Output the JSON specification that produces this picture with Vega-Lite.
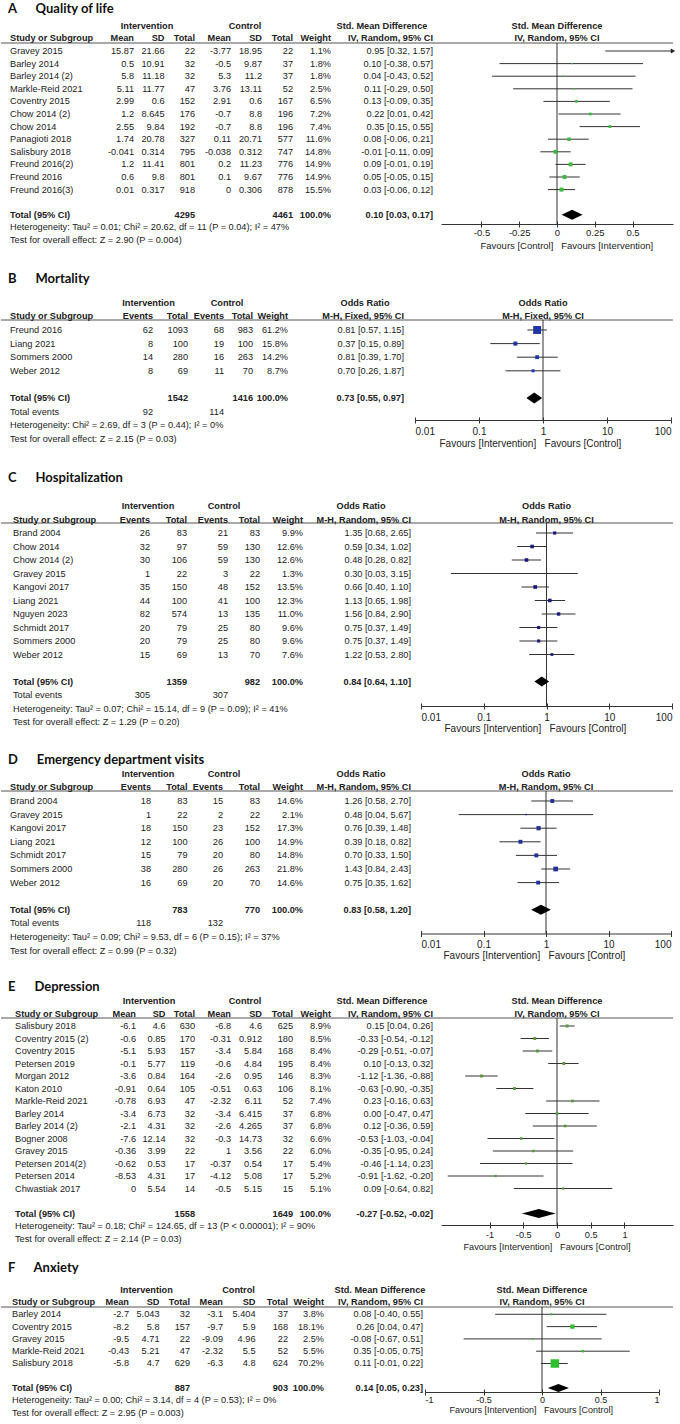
{
"$schema":"https://vega.github.io/schema/vega-lite/v6.json",
"background":"white",
"padding":{"left":0,"top":3,"right":0,"bottom":0},
"autosize":{"type":"pad"},
"spacing":0,
"bounds":"flush",
"config":{
 "view":{"stroke":null},
 "text":{"font":"Liberation Sans, Arial, sans-serif","fontSize":9.2,"color":"#222","baseline":"middle"},
 "style":{"b":{"fontWeight":"bold"},"l":{"align":"left"},"r":{"align":"right"},"c":{"align":"center"},"m":{"fontSize":9.4},"s":{"fontSize":8.8}},
 "axis":{"grid":false,"labelFont":"Liberation Sans, Arial, sans-serif","labelFontSize":9.5,"labelColor":"#222","titleFont":"Liberation Sans, Arial, sans-serif","titleFontSize":9.5,"titleFontWeight":"normal","titleColor":"#222","domainColor":"#333","tickColor":"#333","labelBaseline":"middle","labelFlush":true,"labelOverlap":false,"labelExpr":"'' + datum.value","titleAlign":"left","titleBaseline":"middle"},
 "title":{"anchor":"start","frame":"group","font":"Lato","fontSize":13,"fontWeight":"bold","color":"#111","dx":7}
},
"datasets":{
"qol":[
{"row":-2,"kind":"group","group_i":"Intervention","group_c":"Control","ci":"Std. Mean Difference"},
{"row":-1,"kind":"head","label":"Study or Subgroup","mean_i":"Mean","sd_i":"SD","total_i":"Total","mean_c":"Mean","sd_c":"SD","total_c":"Total","weight":"Weight","ci":"IV, Random, 95% CI"},
{"row":0,"kind":"study","label":"Gravey 2015","mean_i":"15.87","sd_i":"21.66","total_i":"22","mean_c":"-3.77","sd_c":"18.95","total_c":"22","weight":"1.1%","w":1.1,"ci":"0.95 [0.32, 1.57]","est":0.95,"lo":0.32,"hi":1.57},
{"row":1,"kind":"study","label":"Barley 2014","mean_i":"0.5","sd_i":"10.91","total_i":"32","mean_c":"-0.5","sd_c":"9.87","total_c":"37","weight":"1.8%","w":1.8,"ci":"0.10 [-0.38, 0.57]","est":0.10,"lo":-0.38,"hi":0.57},
{"row":2,"kind":"study","label":"Barley 2014 (2)","mean_i":"5.8","sd_i":"11.18","total_i":"32","mean_c":"5.3","sd_c":"11.2","total_c":"37","weight":"1.8%","w":1.8,"ci":"0.04 [-0.43, 0.52]","est":0.04,"lo":-0.43,"hi":0.52},
{"row":3,"kind":"study","label":"Markle-Reid 2021","mean_i":"5.11","sd_i":"11.77","total_i":"47","mean_c":"3.76","sd_c":"13.11","total_c":"52","weight":"2.5%","w":2.5,"ci":"0.11 [-0.29, 0.50]","est":0.11,"lo":-0.29,"hi":0.50},
{"row":4,"kind":"study","label":"Coventry 2015","mean_i":"2.99","sd_i":"0.6","total_i":"152","mean_c":"2.91","sd_c":"0.6","total_c":"167","weight":"6.5%","w":6.5,"ci":"0.13 [-0.09, 0.35]","est":0.13,"lo":-0.09,"hi":0.35},
{"row":5,"kind":"study","label":"Chow 2014 (2)","mean_i":"1.2","sd_i":"8.645","total_i":"176","mean_c":"-0.7","sd_c":"8.8","total_c":"196","weight":"7.2%","w":7.2,"ci":"0.22 [0.01, 0.42]","est":0.22,"lo":0.01,"hi":0.42},
{"row":6,"kind":"study","label":"Chow 2014","mean_i":"2.55","sd_i":"9.84","total_i":"192","mean_c":"-0.7","sd_c":"8.8","total_c":"196","weight":"7.4%","w":7.4,"ci":"0.35 [0.15, 0.55]","est":0.35,"lo":0.15,"hi":0.55},
{"row":7,"kind":"study","label":"Panagioti 2018","mean_i":"1.74","sd_i":"20.78","total_i":"327","mean_c":"0.11","sd_c":"20.71","total_c":"577","weight":"11.6%","w":11.6,"ci":"0.08 [-0.06, 0.21]","est":0.08,"lo":-0.06,"hi":0.21},
{"row":8,"kind":"study","label":"Salisbury 2018","mean_i":"-0.041","sd_i":"0.314","total_i":"795","mean_c":"-0.038","sd_c":"0.312","total_c":"747","weight":"14.8%","w":14.8,"ci":"-0.01 [-0.11, 0.09]","est":-0.01,"lo":-0.11,"hi":0.09},
{"row":9,"kind":"study","label":"Freund 2016(2)","mean_i":"1.2","sd_i":"11.41","total_i":"801","mean_c":"0.2","sd_c":"11.23","total_c":"776","weight":"14.9%","w":14.9,"ci":"0.09 [-0.01, 0.19]","est":0.09,"lo":-0.01,"hi":0.19},
{"row":10,"kind":"study","label":"Freund 2016","mean_i":"0.6","sd_i":"9.8","total_i":"801","mean_c":"0.1","sd_c":"9.67","total_c":"776","weight":"14.9%","w":14.9,"ci":"0.05 [-0.05, 0.15]","est":0.05,"lo":-0.05,"hi":0.15},
{"row":11,"kind":"study","label":"Freund 2016(3)","mean_i":"0.01","sd_i":"0.317","total_i":"918","mean_c":"0","sd_c":"0.306","total_c":"878","weight":"15.5%","w":15.5,"ci":"0.03 [-0.06, 0.12]","est":0.03,"lo":-0.06,"hi":0.12},
{"row":13,"kind":"total","label":"Total (95% CI)","total_i":"4295","total_c":"4461","weight":"100.0%","ci":"0.10 [0.03, 0.17]","est":0.10,"lo":0.03,"hi":0.17},
{"row":14,"kind":"note","label":"Heterogeneity: Tau² = 0.01; Chi² = 20.62, df = 11 (P = 0.04); I² = 47%"},
{"row":15,"kind":"note","label":"Test for overall effect: Z = 2.90 (P = 0.004)"}
],
"mort":[
{"row":-2,"kind":"group","group_i":"Intervention","group_c":"Control","ci":"Odds Ratio"},
{"row":-1,"kind":"head","label":"Study or Subgroup","events_i":"Events","total_i":"Total","events_c":"Events","total_c":"Total","weight":"Weight","ci":"M-H, Fixed, 95% CI"},
{"row":0,"kind":"study","label":"Freund 2016","events_i":"62","total_i":"1093","events_c":"68","total_c":"983","weight":"61.2%","w":61.2,"ci":"0.81 [0.57, 1.15]","est":0.81,"lo":0.57,"hi":1.15},
{"row":1,"kind":"study","label":"Liang 2021","events_i":"8","total_i":"100","events_c":"19","total_c":"100","weight":"15.8%","w":15.8,"ci":"0.37 [0.15, 0.89]","est":0.37,"lo":0.15,"hi":0.89},
{"row":2,"kind":"study","label":"Sommers 2000","events_i":"14","total_i":"280","events_c":"16","total_c":"263","weight":"14.2%","w":14.2,"ci":"0.81 [0.39, 1.70]","est":0.81,"lo":0.39,"hi":1.70},
{"row":3,"kind":"study","label":"Weber 2012","events_i":"8","total_i":"69","events_c":"11","total_c":"70","weight":"8.7%","w":8.7,"ci":"0.70 [0.26, 1.87]","est":0.70,"lo":0.26,"hi":1.87},
{"row":5,"kind":"total","label":"Total (95% CI)","total_i":"1542","total_c":"1416","weight":"100.0%","ci":"0.73 [0.55, 0.97]","est":0.73,"lo":0.55,"hi":0.97},
{"row":6,"kind":"events","label":"Total events","events_i":"92","events_c":"114"},
{"row":7,"kind":"note","label":"Heterogeneity: Chi² = 2.69, df = 3 (P = 0.44); I² = 0%"},
{"row":8,"kind":"note","label":"Test for overall effect: Z = 2.15 (P = 0.03)"}
],
"hosp":[
{"row":-2,"kind":"group","group_i":"Intervention","group_c":"Control","ci":"Odds Ratio"},
{"row":-1,"kind":"head","label":"Study or Subgroup","events_i":"Events","total_i":"Total","events_c":"Events","total_c":"Total","weight":"Weight","ci":"M-H, Random, 95% CI"},
{"row":0,"kind":"study","label":"Brand 2004","events_i":"26","total_i":"83","events_c":"21","total_c":"83","weight":"9.9%","w":9.9,"ci":"1.35 [0.68, 2.65]","est":1.35,"lo":0.68,"hi":2.65},
{"row":1,"kind":"study","label":"Chow 2014","events_i":"32","total_i":"97","events_c":"59","total_c":"130","weight":"12.6%","w":12.6,"ci":"0.59 [0.34, 1.02]","est":0.59,"lo":0.34,"hi":1.02},
{"row":2,"kind":"study","label":"Chow 2014 (2)","events_i":"30","total_i":"106","events_c":"59","total_c":"130","weight":"12.6%","w":12.6,"ci":"0.48 [0.28, 0.82]","est":0.48,"lo":0.28,"hi":0.82},
{"row":3,"kind":"study","label":"Gravey 2015","events_i":"1","total_i":"22","events_c":"3","total_c":"22","weight":"1.3%","w":1.3,"ci":"0.30 [0.03, 3.15]","est":0.30,"lo":0.03,"hi":3.15},
{"row":4,"kind":"study","label":"Kangovi 2017","events_i":"35","total_i":"150","events_c":"48","total_c":"152","weight":"13.5%","w":13.5,"ci":"0.66 [0.40, 1.10]","est":0.66,"lo":0.40,"hi":1.10},
{"row":5,"kind":"study","label":"Liang 2021","events_i":"44","total_i":"100","events_c":"41","total_c":"100","weight":"12.3%","w":12.3,"ci":"1.13 [0.65, 1.98]","est":1.13,"lo":0.65,"hi":1.98},
{"row":6,"kind":"study","label":"Nguyen 2023","events_i":"82","total_i":"574","events_c":"13","total_c":"135","weight":"11.0%","w":11.0,"ci":"1.56 [0.84, 2.90]","est":1.56,"lo":0.84,"hi":2.90},
{"row":7,"kind":"study","label":"Schmidt 2017","events_i":"20","total_i":"79","events_c":"25","total_c":"80","weight":"9.6%","w":9.6,"ci":"0.75 [0.37, 1.49]","est":0.75,"lo":0.37,"hi":1.49},
{"row":8,"kind":"study","label":"Sommers 2000","events_i":"20","total_i":"79","events_c":"25","total_c":"80","weight":"9.6%","w":9.6,"ci":"0.75 [0.37, 1.49]","est":0.75,"lo":0.37,"hi":1.49},
{"row":9,"kind":"study","label":"Weber 2012","events_i":"15","total_i":"69","events_c":"13","total_c":"70","weight":"7.6%","w":7.6,"ci":"1.22 [0.53, 2.80]","est":1.22,"lo":0.53,"hi":2.80},
{"row":11,"kind":"total","label":"Total (95% CI)","total_i":"1359","total_c":"982","weight":"100.0%","ci":"0.84 [0.64, 1.10]","est":0.84,"lo":0.64,"hi":1.10},
{"row":12,"kind":"events","label":"Total events","events_i":"305","events_c":"307"},
{"row":13,"kind":"note","label":"Heterogeneity: Tau² = 0.07; Chi² = 15.14, df = 9 (P = 0.09); I² = 41%"},
{"row":14,"kind":"note","label":"Test for overall effect: Z = 1.29 (P = 0.20)"}
],
"ed":[
{"row":-2,"kind":"group","group_i":"Intervention","group_c":"Control","ci":"Odds Ratio"},
{"row":-1,"kind":"head","label":"Study or Subgroup","events_i":"Events","total_i":"Total","events_c":"Events","total_c":"Total","weight":"Weight","ci":"M-H, Random, 95% CI"},
{"row":0,"kind":"study","label":"Brand 2004","events_i":"18","total_i":"83","events_c":"15","total_c":"83","weight":"14.6%","w":14.6,"ci":"1.26 [0.58, 2.70]","est":1.26,"lo":0.58,"hi":2.70},
{"row":1,"kind":"study","label":"Gravey 2015","events_i":"1","total_i":"22","events_c":"2","total_c":"22","weight":"2.1%","w":2.1,"ci":"0.48 [0.04, 5.67]","est":0.48,"lo":0.04,"hi":5.67},
{"row":2,"kind":"study","label":"Kangovi 2017","events_i":"18","total_i":"150","events_c":"23","total_c":"152","weight":"17.3%","w":17.3,"ci":"0.76 [0.39, 1.48]","est":0.76,"lo":0.39,"hi":1.48},
{"row":3,"kind":"study","label":"Liang 2021","events_i":"12","total_i":"100","events_c":"26","total_c":"100","weight":"14.9%","w":14.9,"ci":"0.39 [0.18, 0.82]","est":0.39,"lo":0.18,"hi":0.82},
{"row":4,"kind":"study","label":"Schmidt 2017","events_i":"15","total_i":"79","events_c":"20","total_c":"80","weight":"14.8%","w":14.8,"ci":"0.70 [0.33, 1.50]","est":0.70,"lo":0.33,"hi":1.50},
{"row":5,"kind":"study","label":"Sommers 2000","events_i":"38","total_i":"280","events_c":"26","total_c":"263","weight":"21.8%","w":21.8,"ci":"1.43 [0.84, 2.43]","est":1.43,"lo":0.84,"hi":2.43},
{"row":6,"kind":"study","label":"Weber 2012","events_i":"16","total_i":"69","events_c":"20","total_c":"70","weight":"14.6%","w":14.6,"ci":"0.75 [0.35, 1.62]","est":0.75,"lo":0.35,"hi":1.62},
{"row":8,"kind":"total","label":"Total (95% CI)","total_i":"783","total_c":"770","weight":"100.0%","ci":"0.83 [0.58, 1.20]","est":0.83,"lo":0.58,"hi":1.20},
{"row":9,"kind":"events","label":"Total events","events_i":"118","events_c":"132"},
{"row":10,"kind":"note","label":"Heterogeneity: Tau² = 0.09; Chi² = 9.53, df = 6 (P = 0.15); I² = 37%"},
{"row":11,"kind":"note","label":"Test for overall effect: Z = 0.99 (P = 0.32)"}
],
"dep":[
{"row":-2,"kind":"group","group_i":"Intervention","group_c":"Control","ci":"Std. Mean Difference"},
{"row":-1,"kind":"head","label":"Study or Subgroup","mean_i":"Mean","sd_i":"SD","total_i":"Total","mean_c":"Mean","sd_c":"SD","total_c":"Total","weight":"Weight","ci":"IV, Random, 95% CI"},
{"row":0,"kind":"study","label":"Salisbury 2018","mean_i":"-6.1","sd_i":"4.6","total_i":"630","mean_c":"-6.8","sd_c":"4.6","total_c":"625","weight":"8.9%","w":8.9,"ci":"0.15 [0.04, 0.26]","est":0.15,"lo":0.04,"hi":0.26},
{"row":1,"kind":"study","label":"Coventry 2015 (2)","mean_i":"-0.6","sd_i":"0.85","total_i":"170","mean_c":"-0.31","sd_c":"0.912","total_c":"180","weight":"8.5%","w":8.5,"ci":"-0.33 [-0.54, -0.12]","est":-0.33,"lo":-0.54,"hi":-0.12},
{"row":2,"kind":"study","label":"Coventry 2015","mean_i":"-5.1","sd_i":"5.93","total_i":"157","mean_c":"-3.4","sd_c":"5.84","total_c":"168","weight":"8.4%","w":8.4,"ci":"-0.29 [-0.51, -0.07]","est":-0.29,"lo":-0.51,"hi":-0.07},
{"row":3,"kind":"study","label":"Petersen 2019","mean_i":"-0.1","sd_i":"5.77","total_i":"119","mean_c":"-0.6","sd_c":"4.84","total_c":"195","weight":"8.4%","w":8.4,"ci":"0.10 [-0.13, 0.32]","est":0.10,"lo":-0.13,"hi":0.32},
{"row":4,"kind":"study","label":"Morgan 2012","mean_i":"-3.6","sd_i":"0.84","total_i":"164","mean_c":"-2.6","sd_c":"0.95","total_c":"146","weight":"8.3%","w":8.3,"ci":"-1.12 [-1.36, -0.88]","est":-1.12,"lo":-1.36,"hi":-0.88},
{"row":5,"kind":"study","label":"Katon 2010","mean_i":"-0.91","sd_i":"0.64","total_i":"105","mean_c":"-0.51","sd_c":"0.63","total_c":"106","weight":"8.1%","w":8.1,"ci":"-0.63 [-0.90, -0.35]","est":-0.63,"lo":-0.90,"hi":-0.35},
{"row":6,"kind":"study","label":"Markle-Reid 2021","mean_i":"-0.78","sd_i":"6.93","total_i":"47","mean_c":"-2.32","sd_c":"6.11","total_c":"52","weight":"7.4%","w":7.4,"ci":"0.23 [-0.16, 0.63]","est":0.23,"lo":-0.16,"hi":0.63},
{"row":7,"kind":"study","label":"Barley 2014","mean_i":"-3.4","sd_i":"6.73","total_i":"32","mean_c":"-3.4","sd_c":"6.415","total_c":"37","weight":"6.8%","w":6.8,"ci":"0.00 [-0.47, 0.47]","est":0.00,"lo":-0.47,"hi":0.47},
{"row":8,"kind":"study","label":"Barley 2014 (2)","mean_i":"-2.1","sd_i":"4.31","total_i":"32","mean_c":"-2.6","sd_c":"4.265","total_c":"37","weight":"6.8%","w":6.8,"ci":"0.12 [-0.36, 0.59]","est":0.12,"lo":-0.36,"hi":0.59},
{"row":9,"kind":"study","label":"Bogner 2008","mean_i":"-7.6","sd_i":"12.14","total_i":"32","mean_c":"-0.3","sd_c":"14.73","total_c":"32","weight":"6.6%","w":6.6,"ci":"-0.53 [-1.03, -0.04]","est":-0.53,"lo":-1.03,"hi":-0.04},
{"row":10,"kind":"study","label":"Gravey 2015","mean_i":"-0.36","sd_i":"3.99","total_i":"22","mean_c":"1","sd_c":"3.56","total_c":"22","weight":"6.0%","w":6.0,"ci":"-0.35 [-0.95, 0.24]","est":-0.35,"lo":-0.95,"hi":0.24},
{"row":11,"kind":"study","label":"Petersen 2014(2)","mean_i":"-0.62","sd_i":"0.53","total_i":"17","mean_c":"-0.37","sd_c":"0.54","total_c":"17","weight":"5.4%","w":5.4,"ci":"-0.46 [-1.14, 0.23]","est":-0.46,"lo":-1.14,"hi":0.23},
{"row":12,"kind":"study","label":"Petersen 2014","mean_i":"-8.53","sd_i":"4.31","total_i":"17","mean_c":"-4.12","sd_c":"5.08","total_c":"17","weight":"5.2%","w":5.2,"ci":"-0.91 [-1.62, -0.20]","est":-0.91,"lo":-1.62,"hi":-0.20},
{"row":13,"kind":"study","label":"Chwastiak 2017","mean_i":"0","sd_i":"5.54","total_i":"14","mean_c":"-0.5","sd_c":"5.15","total_c":"15","weight":"5.1%","w":5.1,"ci":"0.09 [-0.64, 0.82]","est":0.09,"lo":-0.64,"hi":0.82},
{"row":15,"kind":"total","label":"Total (95% CI)","total_i":"1558","total_c":"1649","weight":"100.0%","ci":"-0.27 [-0.52, -0.02]","est":-0.27,"lo":-0.52,"hi":-0.02},
{"row":16,"kind":"note","label":"Heterogeneity: Tau² = 0.18; Chi² = 124.65, df = 13 (P < 0.00001); I² = 90%"},
{"row":17,"kind":"note","label":"Test for overall effect: Z = 2.14 (P = 0.03)"}
],
"anx":[
{"row":-2,"kind":"group","group_i":"Intervention","group_c":"Control","ci":"Std. Mean Difference"},
{"row":-1,"kind":"head","label":"Study or Subgroup","mean_i":"Mean","sd_i":"SD","total_i":"Total","mean_c":"Mean","sd_c":"SD","total_c":"Total","weight":"Weight","ci":"IV, Random, 95% CI"},
{"row":0,"kind":"study","label":"Barley 2014","mean_i":"-2.7","sd_i":"5.043","total_i":"32","mean_c":"-3.1","sd_c":"5.404","total_c":"37","weight":"3.8%","w":3.8,"ci":"0.08 [-0.40, 0.55]","est":0.08,"lo":-0.40,"hi":0.55},
{"row":1,"kind":"study","label":"Coventry 2015","mean_i":"-8.2","sd_i":"5.8","total_i":"157","mean_c":"-9.7","sd_c":"5.9","total_c":"168","weight":"18.1%","w":18.1,"ci":"0.26 [0.04, 0.47]","est":0.26,"lo":0.04,"hi":0.47},
{"row":2,"kind":"study","label":"Gravey 2015","mean_i":"-9.5","sd_i":"4.71","total_i":"22","mean_c":"-9.09","sd_c":"4.96","total_c":"22","weight":"2.5%","w":2.5,"ci":"-0.08 [-0.67, 0.51]","est":-0.08,"lo":-0.67,"hi":0.51},
{"row":3,"kind":"study","label":"Markle-Reid 2021","mean_i":"-0.43","sd_i":"5.21","total_i":"47","mean_c":"-2.32","sd_c":"5.5","total_c":"52","weight":"5.5%","w":5.5,"ci":"0.35 [-0.05, 0.75]","est":0.35,"lo":-0.05,"hi":0.75},
{"row":4,"kind":"study","label":"Salisbury 2018","mean_i":"-5.8","sd_i":"4.7","total_i":"629","mean_c":"-6.3","sd_c":"4.8","total_c":"624","weight":"70.2%","w":70.2,"ci":"0.11 [-0.01, 0.22]","est":0.11,"lo":-0.01,"hi":0.22},
{"row":6,"kind":"total","label":"Total (95% CI)","total_i":"887","total_c":"903","weight":"100.0%","ci":"0.14 [0.05, 0.23]","est":0.14,"lo":0.05,"hi":0.23},
{"row":7,"kind":"note","label":"Heterogeneity: Tau² = 0.00; Chi² = 3.14, df = 4 (P = 0.53); I² = 0%"},
{"row":8,"kind":"note","label":"Test for overall effect: Z = 2.95 (P = 0.003)"}
]
},
"vconcat":[
{"title":{"text":"A\u00a0\u00a0\u00a0\u00a0\u00a0\u00a0Quality of life","offset":5.5},"width":672,"height":277,"resolve":{"scale":{"x":"independent"}},"layer":[
{"data":{"name":"qol"},"transform":[{"filter":"datum.kind == 'head'"}],"mark":{"type":"rule","color":"#555"},"encoding":{"y":{"datum":-0.635,"type":"quantitative","scale":{"domain":[-0.635,21.349],"reverse":true,"nice":false,"zero":false},"axis":null}}},
{"data":{"name":"qol"},"transform":[{"filter":"datum.kind == 'head'"}],"mark":{"type":"rule","color":"#333"},"encoding":{"x":{"datum":0,"type":"quantitative","scale":{"domain":[-0.768,0.768],"range":[440,672],"nice":false,"zero":false,"clamp":true},"axis":null},"y":{"datum":-0.635,"type":"quantitative","scale":{"domain":[-0.635,21.349],"reverse":true,"nice":false,"zero":false},"axis":null},"y2":{"datum":13.73}}},
{"data":{"name":"qol"},"transform":[{"filter":"datum.kind == 'study'"}],"mark":{"type":"rule","color":"#333"},"encoding":{"x":{"field":"lo","type":"quantitative","scale":{"domain":[-0.768,0.768],"range":[440,672],"nice":false,"zero":false,"clamp":true},"axis":{"orient":"bottom","offset":-96,"values":[-0.5,-0.25,0,0.25,0.5],"tickSize":3,"labelPadding":5,"title":"Favours [Control]\u00a0\u00a0\u00a0Favours [Intervention]","titleX":479,"titleY":21}},"x2":{"field":"hi"},"y":{"field":"row","type":"quantitative","scale":{"domain":[-0.635,21.349],"reverse":true,"nice":false,"zero":false},"axis":null}}},
{"data":{"name":"qol"},"transform":[{"filter":"datum.kind == 'study' && datum.est < 0.768"}],"mark":{"type":"square","filled":true,"opacity":1,"color":"#3cb83c"},"encoding":{"x":{"field":"est","type":"quantitative","scale":{"domain":[-0.768,0.768],"range":[440,672],"nice":false,"zero":false,"clamp":true},"axis":{"orient":"bottom","offset":-96,"values":[-0.5,-0.25,0,0.25,0.5],"tickSize":-3,"labels":false,"domain":false,"title":null}},"y":{"field":"row","type":"quantitative","scale":{"domain":[-0.635,21.349],"reverse":true,"nice":false,"zero":false},"axis":null},"size":{"field":"w","type":"quantitative","scale":{"domain":[0,100],"range":[0,103]},"legend":null}}},
{"data":{"name":"qol"},"transform":[{"filter":"datum.kind == 'study' && datum.hi > 0.768"}],"mark":{"type":"point","shape":"triangle-right","filled":true,"opacity":1,"color":"#222","size":25},"encoding":{"x":{"field":"hi","type":"quantitative","scale":{"domain":[-0.768,0.768],"range":[440,672],"nice":false,"zero":false,"clamp":true},"axis":null},"y":{"field":"row","type":"quantitative","scale":{"domain":[-0.635,21.349],"reverse":true,"nice":false,"zero":false},"axis":null}}},
{"data":{"name":"qol"},"transform":[{"filter":"datum.kind == 'total'"}],"mark":{"type":"point","shape":"M-1,0L0,-0.48L1,0L0,0.48Z","filled":true,"opacity":1,"color":"#000","size":441},"encoding":{"x":{"field":"est","type":"quantitative","scale":{"domain":[-0.768,0.768],"range":[440,672],"nice":false,"zero":false,"clamp":true},"axis":null},"y":{"field":"row","type":"quantitative","scale":{"domain":[-0.635,21.349],"reverse":true,"nice":false,"zero":false},"axis":null}}},
{"data":{"name":"qol"},"transform":[{"filter":{"field":"kind","oneOf":["study","events","note"]}}],"mark":{"type":"text","style":"l"},"encoding":{"x":{"datum":"label","type":"nominal","scale":{"type":"point","domain":["label"],"range":[9,9]},"axis":null},"y":{"field":"row","type":"quantitative","scale":{"domain":[-0.635,21.349],"reverse":true,"nice":false,"zero":false},"axis":null},"text":{"field":"label","type":"nominal"}}},
{"data":{"name":"qol"},"transform":[{"filter":{"field":"kind","oneOf":["head","total"]}}],"mark":{"type":"text","style":["l","b"]},"encoding":{"x":{"datum":"label","type":"nominal","scale":{"type":"point","domain":["label"],"range":[9,9]},"axis":null},"y":{"field":"row","type":"quantitative","scale":{"domain":[-0.635,21.349],"reverse":true,"nice":false,"zero":false},"axis":null},"text":{"field":"label","type":"nominal"}}},
{"data":{"name":"qol"},"transform":[{"filter":{"field":"kind","oneOf":["study","events"]}},{"fold":["mean_i","sd_i","total_i"],"as":["col","val"]},{"filter":"isValid(datum.val)"}],"mark":{"type":"text","style":"r"},"encoding":{"x":{"field":"col","type":"nominal","scale":{"type":"point","domain":["mean_i","sd_i","total_i"],"range":[133,194],"padding":0},"axis":null},"y":{"field":"row","type":"quantitative","scale":{"domain":[-0.635,21.349],"reverse":true,"nice":false,"zero":false},"axis":null},"text":{"field":"val","type":"nominal"}}},
{"data":{"name":"qol"},"transform":[{"filter":{"field":"kind","oneOf":["head","total"]}},{"fold":["mean_i","sd_i","total_i"],"as":["col","val"]},{"filter":"isValid(datum.val)"}],"mark":{"type":"text","style":["r","b"]},"encoding":{"x":{"field":"col","type":"nominal","scale":{"type":"point","domain":["mean_i","sd_i","total_i"],"range":[133,194],"padding":0},"axis":null},"y":{"field":"row","type":"quantitative","scale":{"domain":[-0.635,21.349],"reverse":true,"nice":false,"zero":false},"axis":null},"text":{"field":"val","type":"nominal"}}},
{"data":{"name":"qol"},"transform":[{"filter":"datum.kind == 'group'"}],"mark":{"type":"text","style":["c","b"],"dx":-17.5},"encoding":{"x":{"datum":"sd_i","type":"nominal","scale":{"type":"point","domain":["mean_i","sd_i","total_i"],"range":[133,194],"padding":0},"axis":null},"y":{"field":"row","type":"quantitative","scale":{"domain":[-0.635,21.349],"reverse":true,"nice":false,"zero":false},"axis":null},"text":{"field":"group_i","type":"nominal"}}},
{"data":{"name":"qol"},"transform":[{"filter":{"field":"kind","oneOf":["study","events"]}},{"fold":["mean_c","sd_c","total_c"],"as":["col","val"]},{"filter":"isValid(datum.val)"}],"mark":{"type":"text","style":"r"},"encoding":{"x":{"field":"col","type":"nominal","scale":{"type":"point","domain":["mean_c","sd_c","total_c"],"range":[230,292],"padding":0},"axis":null},"y":{"field":"row","type":"quantitative","scale":{"domain":[-0.635,21.349],"reverse":true,"nice":false,"zero":false},"axis":null},"text":{"field":"val","type":"nominal"}}},
{"data":{"name":"qol"},"transform":[{"filter":{"field":"kind","oneOf":["head","total"]}},{"fold":["mean_c","sd_c","total_c"],"as":["col","val"]},{"filter":"isValid(datum.val)"}],"mark":{"type":"text","style":["r","b"]},"encoding":{"x":{"field":"col","type":"nominal","scale":{"type":"point","domain":["mean_c","sd_c","total_c"],"range":[230,292],"padding":0},"axis":null},"y":{"field":"row","type":"quantitative","scale":{"domain":[-0.635,21.349],"reverse":true,"nice":false,"zero":false},"axis":null},"text":{"field":"val","type":"nominal"}}},
{"data":{"name":"qol"},"transform":[{"filter":"datum.kind == 'group'"}],"mark":{"type":"text","style":["c","b"],"dx":-17},"encoding":{"x":{"datum":"sd_c","type":"nominal","scale":{"type":"point","domain":["mean_c","sd_c","total_c"],"range":[230,292],"padding":0},"axis":null},"y":{"field":"row","type":"quantitative","scale":{"domain":[-0.635,21.349],"reverse":true,"nice":false,"zero":false},"axis":null},"text":{"field":"group_c","type":"nominal"}}},
{"data":{"name":"qol"},"transform":[{"filter":{"field":"kind","oneOf":["study"]}},{"fold":["weight","ci"],"as":["col","val"]},{"filter":"isValid(datum.val)"}],"mark":{"type":"text","style":"r"},"encoding":{"x":{"field":"col","type":"nominal","scale":{"type":"point","domain":["weight","ci"],"range":[330,432],"padding":0},"axis":null},"y":{"field":"row","type":"quantitative","scale":{"domain":[-0.635,21.349],"reverse":true,"nice":false,"zero":false},"axis":null},"text":{"field":"val","type":"nominal"}}},
{"data":{"name":"qol"},"transform":[{"filter":{"field":"kind","oneOf":["head","total"]}},{"fold":["weight","ci"],"as":["col","val"]},{"filter":"isValid(datum.val)"}],"mark":{"type":"text","style":["r","b"]},"encoding":{"x":{"field":"col","type":"nominal","scale":{"type":"point","domain":["weight","ci"],"range":[330,432],"padding":0},"axis":null},"y":{"field":"row","type":"quantitative","scale":{"domain":[-0.635,21.349],"reverse":true,"nice":false,"zero":false},"axis":null},"text":{"field":"val","type":"nominal"}}},
{"data":{"name":"qol"},"transform":[{"filter":"datum.kind == 'group'"}],"mark":{"type":"text","style":["c","b"],"dx":-51},"encoding":{"x":{"datum":"ci","type":"nominal","scale":{"type":"point","domain":["weight","ci"],"range":[330,432],"padding":0},"axis":null},"y":{"field":"row","type":"quantitative","scale":{"domain":[-0.635,21.349],"reverse":true,"nice":false,"zero":false},"axis":null},"text":{"field":"ci","type":"nominal"}}},
{"data":{"name":"qol"},"transform":[{"filter":{"field":"kind","oneOf":["head","group"]}}],"mark":{"type":"text","style":["c","b"]},"encoding":{"x":{"datum":0,"type":"quantitative","scale":{"domain":[-0.768,0.768],"range":[440,672],"nice":false,"zero":false},"axis":null},"y":{"field":"row","type":"quantitative","scale":{"domain":[-0.635,21.349],"reverse":true,"nice":false,"zero":false},"axis":null},"text":{"field":"ci","type":"nominal"}}}
]},
{"title":{"text":"B\u00a0\u00a0\u00a0\u00a0\u00a0\u00a0Mortality","offset":12.5},"width":672,"height":203,"resolve":{"scale":{"x":"independent"}},"layer":[
{"data":{"name":"mort"},"transform":[{"filter":"datum.kind == 'head'"}],"mark":{"type":"rule","color":"#555"},"encoding":{"y":{"datum":-0.735,"type":"quantitative","scale":{"domain":[-0.735,14.191],"reverse":true,"nice":false,"zero":false},"axis":null}}},
{"data":{"name":"mort"},"transform":[{"filter":"datum.kind == 'head'"}],"mark":{"type":"rule","color":"#333"},"encoding":{"x":{"datum":1,"type":"quantitative","scale":{"type":"log","domain":[0.01,100],"range":[414,670],"nice":false},"axis":null},"y":{"datum":-0.735,"type":"quantitative","scale":{"domain":[-0.735,14.191],"reverse":true,"nice":false,"zero":false},"axis":null},"y2":{"datum":6.618}}},
{"data":{"name":"mort"},"transform":[{"filter":"datum.kind == 'study'"}],"mark":{"type":"rule","color":"#333"},"encoding":{"x":{"field":"lo","type":"quantitative","scale":{"type":"log","domain":[0.01,100],"range":[414,670],"nice":false},"axis":{"orient":"bottom","offset":-103,"values":[0.01,0.1,1,10,100],"tickSize":3,"labelPadding":8,"labelFontSize":10,"titleFontSize":10,"title":"Favours [Intervention]\u00a0\u00a0\u00a0Favours [Control]","titleX":438,"titleY":23}},"x2":{"field":"hi"},"y":{"field":"row","type":"quantitative","scale":{"domain":[-0.735,14.191],"reverse":true,"nice":false,"zero":false},"axis":null}}},
{"data":{"name":"mort"},"transform":[{"filter":"datum.kind == 'study'"}],"mark":{"type":"square","filled":true,"opacity":1,"color":"#1f35a8"},"encoding":{"x":{"field":"est","type":"quantitative","scale":{"type":"log","domain":[0.01,100],"range":[414,670],"nice":false},"axis":{"orient":"bottom","offset":-103,"values":[0.01,0.1,1,10,100],"tickSize":-3,"labels":false,"domain":false,"title":null}},"y":{"field":"row","type":"quantitative","scale":{"domain":[-0.735,14.191],"reverse":true,"nice":false,"zero":false},"axis":null},"size":{"field":"w","type":"quantitative","scale":{"domain":[0,100],"range":[0,163]},"legend":null}}},
{"data":{"name":"mort"},"transform":[{"filter":"datum.kind == 'total'"}],"mark":{"type":"point","shape":"M-1,0L0,-0.7L1,0L0,0.7Z","filled":true,"opacity":1,"color":"#000","size":250},"encoding":{"x":{"field":"est","type":"quantitative","scale":{"type":"log","domain":[0.01,100],"range":[414,670],"nice":false},"axis":null},"y":{"field":"row","type":"quantitative","scale":{"domain":[-0.735,14.191],"reverse":true,"nice":false,"zero":false},"axis":null}}},
{"data":{"name":"mort"},"transform":[{"filter":{"field":"kind","oneOf":["study","events","note"]}}],"mark":{"type":"text","style":"l"},"encoding":{"x":{"datum":"label","type":"nominal","scale":{"type":"point","domain":["label"],"range":[9,9]},"axis":null},"y":{"field":"row","type":"quantitative","scale":{"domain":[-0.735,14.191],"reverse":true,"nice":false,"zero":false},"axis":null},"text":{"field":"label","type":"nominal"}}},
{"data":{"name":"mort"},"transform":[{"filter":{"field":"kind","oneOf":["head","total"]}}],"mark":{"type":"text","style":["l","b"]},"encoding":{"x":{"datum":"label","type":"nominal","scale":{"type":"point","domain":["label"],"range":[9,9]},"axis":null},"y":{"field":"row","type":"quantitative","scale":{"domain":[-0.735,14.191],"reverse":true,"nice":false,"zero":false},"axis":null},"text":{"field":"label","type":"nominal"}}},
{"data":{"name":"mort"},"transform":[{"filter":{"field":"kind","oneOf":["study","events"]}},{"fold":["events_i","total_i"],"as":["col","val"]},{"filter":"isValid(datum.val)"}],"mark":{"type":"text","style":"r"},"encoding":{"x":{"field":"col","type":"nominal","scale":{"type":"point","domain":["events_i","total_i"],"range":[152,187],"padding":0},"axis":null},"y":{"field":"row","type":"quantitative","scale":{"domain":[-0.735,14.191],"reverse":true,"nice":false,"zero":false},"axis":null},"text":{"field":"val","type":"nominal"}}},
{"data":{"name":"mort"},"transform":[{"filter":{"field":"kind","oneOf":["head","total"]}},{"fold":["events_i","total_i"],"as":["col","val"]},{"filter":"isValid(datum.val)"}],"mark":{"type":"text","style":["r","b"]},"encoding":{"x":{"field":"col","type":"nominal","scale":{"type":"point","domain":["events_i","total_i"],"range":[152,187],"padding":0},"axis":null},"y":{"field":"row","type":"quantitative","scale":{"domain":[-0.735,14.191],"reverse":true,"nice":false,"zero":false},"axis":null},"text":{"field":"val","type":"nominal"}}},
{"data":{"name":"mort"},"transform":[{"filter":"datum.kind == 'group'"}],"mark":{"type":"text","style":["c","b"],"dx":-39.5},"encoding":{"x":{"datum":"total_i","type":"nominal","scale":{"type":"point","domain":["events_i","total_i"],"range":[152,187],"padding":0},"axis":null},"y":{"field":"row","type":"quantitative","scale":{"domain":[-0.735,14.191],"reverse":true,"nice":false,"zero":false},"axis":null},"text":{"field":"group_i","type":"nominal"}}},
{"data":{"name":"mort"},"transform":[{"filter":{"field":"kind","oneOf":["study","events"]}},{"fold":["events_c","total_c"],"as":["col","val"]},{"filter":"isValid(datum.val)"}],"mark":{"type":"text","style":"r"},"encoding":{"x":{"field":"col","type":"nominal","scale":{"type":"point","domain":["events_c","total_c"],"range":[223,252],"padding":0},"axis":null},"y":{"field":"row","type":"quantitative","scale":{"domain":[-0.735,14.191],"reverse":true,"nice":false,"zero":false},"axis":null},"text":{"field":"val","type":"nominal"}}},
{"data":{"name":"mort"},"transform":[{"filter":{"field":"kind","oneOf":["head","total"]}},{"fold":["events_c","total_c"],"as":["col","val"]},{"filter":"isValid(datum.val)"}],"mark":{"type":"text","style":["r","b"]},"encoding":{"x":{"field":"col","type":"nominal","scale":{"type":"point","domain":["events_c","total_c"],"range":[223,252],"padding":0},"axis":null},"y":{"field":"row","type":"quantitative","scale":{"domain":[-0.735,14.191],"reverse":true,"nice":false,"zero":false},"axis":null},"text":{"field":"val","type":"nominal"}}},
{"data":{"name":"mort"},"transform":[{"filter":"datum.kind == 'group'"}],"mark":{"type":"text","style":["c","b"],"dx":-26},"encoding":{"x":{"datum":"total_c","type":"nominal","scale":{"type":"point","domain":["events_c","total_c"],"range":[223,252],"padding":0},"axis":null},"y":{"field":"row","type":"quantitative","scale":{"domain":[-0.735,14.191],"reverse":true,"nice":false,"zero":false},"axis":null},"text":{"field":"group_c","type":"nominal"}}},
{"data":{"name":"mort"},"transform":[{"filter":{"field":"kind","oneOf":["study"]}},{"fold":["weight","ci"],"as":["col","val"]},{"filter":"isValid(datum.val)"}],"mark":{"type":"text","style":"r"},"encoding":{"x":{"field":"col","type":"nominal","scale":{"type":"point","domain":["weight","ci"],"range":[287,403],"padding":0},"axis":null},"y":{"field":"row","type":"quantitative","scale":{"domain":[-0.735,14.191],"reverse":true,"nice":false,"zero":false},"axis":null},"text":{"field":"val","type":"nominal"}}},
{"data":{"name":"mort"},"transform":[{"filter":{"field":"kind","oneOf":["head","total"]}},{"fold":["weight","ci"],"as":["col","val"]},{"filter":"isValid(datum.val)"}],"mark":{"type":"text","style":["r","b"]},"encoding":{"x":{"field":"col","type":"nominal","scale":{"type":"point","domain":["weight","ci"],"range":[287,403],"padding":0},"axis":null},"y":{"field":"row","type":"quantitative","scale":{"domain":[-0.735,14.191],"reverse":true,"nice":false,"zero":false},"axis":null},"text":{"field":"val","type":"nominal"}}},
{"data":{"name":"mort"},"transform":[{"filter":"datum.kind == 'group'"}],"mark":{"type":"text","style":["c","b"],"dx":-39},"encoding":{"x":{"datum":"ci","type":"nominal","scale":{"type":"point","domain":["weight","ci"],"range":[287,403],"padding":0},"axis":null},"y":{"field":"row","type":"quantitative","scale":{"domain":[-0.735,14.191],"reverse":true,"nice":false,"zero":false},"axis":null},"text":{"field":"ci","type":"nominal"}}},
{"data":{"name":"mort"},"transform":[{"filter":{"field":"kind","oneOf":["head","group"]}}],"mark":{"type":"text","style":["c","b"]},"encoding":{"x":{"datum":1,"type":"quantitative","scale":{"type":"log","domain":[0.01,100],"range":[414,670],"nice":false},"axis":null},"y":{"field":"row","type":"quantitative","scale":{"domain":[-0.735,14.191],"reverse":true,"nice":false,"zero":false},"axis":null},"text":{"field":"ci","type":"nominal"}}}
]},
{"title":{"text":"C\u00a0\u00a0\u00a0\u00a0\u00a0\u00a0Hospitalization","offset":17.5},"width":672,"height":267.5,"resolve":{"scale":{"x":"independent"}},"layer":[
{"data":{"name":"hosp"},"transform":[{"filter":"datum.kind == 'head'"}],"mark":{"type":"rule","color":"#555"},"encoding":{"y":{"datum":-0.741,"type":"quantitative","scale":{"domain":[-0.741,19.074],"reverse":true,"nice":false,"zero":false},"axis":null}}},
{"data":{"name":"hosp"},"transform":[{"filter":"datum.kind == 'head'"}],"mark":{"type":"rule","color":"#333"},"encoding":{"x":{"datum":1,"type":"quantitative","scale":{"type":"log","domain":[0.01,100],"range":[420,671],"nice":false},"axis":null},"y":{"datum":-0.741,"type":"quantitative","scale":{"domain":[-0.741,19.074],"reverse":true,"nice":false,"zero":false},"axis":null},"y2":{"datum":12.815}}},
{"data":{"name":"hosp"},"transform":[{"filter":"datum.kind == 'study'"}],"mark":{"type":"rule","color":"#333"},"encoding":{"x":{"field":"lo","type":"quantitative","scale":{"type":"log","domain":[0.01,100],"range":[420,671],"nice":false},"axis":{"orient":"bottom","offset":-84.5,"values":[0.01,0.1,1,10,100],"tickSize":3,"labelPadding":8,"labelFontSize":10,"titleFontSize":10,"title":"Favours [Intervention]\u00a0\u00a0\u00a0Favours [Control]","titleX":443,"titleY":22}},"x2":{"field":"hi"},"y":{"field":"row","type":"quantitative","scale":{"domain":[-0.741,19.074],"reverse":true,"nice":false,"zero":false},"axis":null}}},
{"data":{"name":"hosp"},"transform":[{"filter":"datum.kind == 'study'"}],"mark":{"type":"square","filled":true,"opacity":1,"color":"#1c1c7c"},"encoding":{"x":{"field":"est","type":"quantitative","scale":{"type":"log","domain":[0.01,100],"range":[420,671],"nice":false},"axis":{"orient":"bottom","offset":-84.5,"values":[0.01,0.1,1,10,100],"tickSize":-3,"labels":false,"domain":false,"title":null}},"y":{"field":"row","type":"quantitative","scale":{"domain":[-0.741,19.074],"reverse":true,"nice":false,"zero":false},"axis":null},"size":{"field":"w","type":"quantitative","scale":{"domain":[0,100],"range":[0,118]},"legend":null}}},
{"data":{"name":"hosp"},"transform":[{"filter":"datum.kind == 'total'"}],"mark":{"type":"point","shape":"M-1,0L0,-0.68L1,0L0,0.68Z","filled":true,"opacity":1,"color":"#000","size":216},"encoding":{"x":{"field":"est","type":"quantitative","scale":{"type":"log","domain":[0.01,100],"range":[420,671],"nice":false},"axis":null},"y":{"field":"row","type":"quantitative","scale":{"domain":[-0.741,19.074],"reverse":true,"nice":false,"zero":false},"axis":null}}},
{"data":{"name":"hosp"},"transform":[{"filter":{"field":"kind","oneOf":["study","events","note"]}}],"mark":{"type":"text","style":["l","m"]},"encoding":{"x":{"datum":"label","type":"nominal","scale":{"type":"point","domain":["label"],"range":[12,12]},"axis":null},"y":{"field":"row","type":"quantitative","scale":{"domain":[-0.741,19.074],"reverse":true,"nice":false,"zero":false},"axis":null},"text":{"field":"label","type":"nominal"}}},
{"data":{"name":"hosp"},"transform":[{"filter":{"field":"kind","oneOf":["head","total"]}}],"mark":{"type":"text","style":["l","b","m"]},"encoding":{"x":{"datum":"label","type":"nominal","scale":{"type":"point","domain":["label"],"range":[12,12]},"axis":null},"y":{"field":"row","type":"quantitative","scale":{"domain":[-0.741,19.074],"reverse":true,"nice":false,"zero":false},"axis":null},"text":{"field":"label","type":"nominal"}}},
{"data":{"name":"hosp"},"transform":[{"filter":{"field":"kind","oneOf":["study","events"]}},{"fold":["events_i","total_i"],"as":["col","val"]},{"filter":"isValid(datum.val)"}],"mark":{"type":"text","style":["r","m"]},"encoding":{"x":{"field":"col","type":"nominal","scale":{"type":"point","domain":["events_i","total_i"],"range":[149,186],"padding":0},"axis":null},"y":{"field":"row","type":"quantitative","scale":{"domain":[-0.741,19.074],"reverse":true,"nice":false,"zero":false},"axis":null},"text":{"field":"val","type":"nominal"}}},
{"data":{"name":"hosp"},"transform":[{"filter":{"field":"kind","oneOf":["head","total"]}},{"fold":["events_i","total_i"],"as":["col","val"]},{"filter":"isValid(datum.val)"}],"mark":{"type":"text","style":["r","b","m"]},"encoding":{"x":{"field":"col","type":"nominal","scale":{"type":"point","domain":["events_i","total_i"],"range":[149,186],"padding":0},"axis":null},"y":{"field":"row","type":"quantitative","scale":{"domain":[-0.741,19.074],"reverse":true,"nice":false,"zero":false},"axis":null},"text":{"field":"val","type":"nominal"}}},
{"data":{"name":"hosp"},"transform":[{"filter":"datum.kind == 'group'"}],"mark":{"type":"text","style":["c","b","m"],"dx":-39},"encoding":{"x":{"datum":"total_i","type":"nominal","scale":{"type":"point","domain":["events_i","total_i"],"range":[149,186],"padding":0},"axis":null},"y":{"field":"row","type":"quantitative","scale":{"domain":[-0.741,19.074],"reverse":true,"nice":false,"zero":false},"axis":null},"text":{"field":"group_i","type":"nominal"}}},
{"data":{"name":"hosp"},"transform":[{"filter":{"field":"kind","oneOf":["study","events"]}},{"fold":["events_c","total_c"],"as":["col","val"]},{"filter":"isValid(datum.val)"}],"mark":{"type":"text","style":["r","m"]},"encoding":{"x":{"field":"col","type":"nominal","scale":{"type":"point","domain":["events_c","total_c"],"range":[227,259],"padding":0},"axis":null},"y":{"field":"row","type":"quantitative","scale":{"domain":[-0.741,19.074],"reverse":true,"nice":false,"zero":false},"axis":null},"text":{"field":"val","type":"nominal"}}},
{"data":{"name":"hosp"},"transform":[{"filter":{"field":"kind","oneOf":["head","total"]}},{"fold":["events_c","total_c"],"as":["col","val"]},{"filter":"isValid(datum.val)"}],"mark":{"type":"text","style":["r","b","m"]},"encoding":{"x":{"field":"col","type":"nominal","scale":{"type":"point","domain":["events_c","total_c"],"range":[227,259],"padding":0},"axis":null},"y":{"field":"row","type":"quantitative","scale":{"domain":[-0.741,19.074],"reverse":true,"nice":false,"zero":false},"axis":null},"text":{"field":"val","type":"nominal"}}},
{"data":{"name":"hosp"},"transform":[{"filter":"datum.kind == 'group'"}],"mark":{"type":"text","style":["c","b","m"],"dx":-36},"encoding":{"x":{"datum":"total_c","type":"nominal","scale":{"type":"point","domain":["events_c","total_c"],"range":[227,259],"padding":0},"axis":null},"y":{"field":"row","type":"quantitative","scale":{"domain":[-0.741,19.074],"reverse":true,"nice":false,"zero":false},"axis":null},"text":{"field":"group_c","type":"nominal"}}},
{"data":{"name":"hosp"},"transform":[{"filter":{"field":"kind","oneOf":["study"]}},{"fold":["weight","ci"],"as":["col","val"]},{"filter":"isValid(datum.val)"}],"mark":{"type":"text","style":["r","m"]},"encoding":{"x":{"field":"col","type":"nominal","scale":{"type":"point","domain":["weight","ci"],"range":[302,410],"padding":0},"axis":null},"y":{"field":"row","type":"quantitative","scale":{"domain":[-0.741,19.074],"reverse":true,"nice":false,"zero":false},"axis":null},"text":{"field":"val","type":"nominal"}}},
{"data":{"name":"hosp"},"transform":[{"filter":{"field":"kind","oneOf":["head","total"]}},{"fold":["weight","ci"],"as":["col","val"]},{"filter":"isValid(datum.val)"}],"mark":{"type":"text","style":["r","b","m"]},"encoding":{"x":{"field":"col","type":"nominal","scale":{"type":"point","domain":["weight","ci"],"range":[302,410],"padding":0},"axis":null},"y":{"field":"row","type":"quantitative","scale":{"domain":[-0.741,19.074],"reverse":true,"nice":false,"zero":false},"axis":null},"text":{"field":"val","type":"nominal"}}},
{"data":{"name":"hosp"},"transform":[{"filter":"datum.kind == 'group'"}],"mark":{"type":"text","style":["c","b","m"],"dx":-50},"encoding":{"x":{"datum":"ci","type":"nominal","scale":{"type":"point","domain":["weight","ci"],"range":[302,410],"padding":0},"axis":null},"y":{"field":"row","type":"quantitative","scale":{"domain":[-0.741,19.074],"reverse":true,"nice":false,"zero":false},"axis":null},"text":{"field":"ci","type":"nominal"}}},
{"data":{"name":"hosp"},"transform":[{"filter":{"field":"kind","oneOf":["head","group"]}}],"mark":{"type":"text","style":["c","b","m"]},"encoding":{"x":{"datum":1,"type":"quantitative","scale":{"type":"log","domain":[0.01,100],"range":[420,671],"nice":false},"axis":null},"y":{"field":"row","type":"quantitative","scale":{"domain":[-0.741,19.074],"reverse":true,"nice":false,"zero":false},"axis":null},"text":{"field":"ci","type":"nominal"}}}
]},
{"title":{"text":"D\u00a0\u00a0\u00a0\u00a0\u00a0\u00a0Emergency department visits","offset":2.5},"width":672,"height":226.5,"resolve":{"scale":{"x":"independent"}},"layer":[
{"data":{"name":"ed"},"transform":[{"filter":"datum.kind == 'head'"}],"mark":{"type":"rule","color":"#555"},"encoding":{"y":{"datum":-0.735,"type":"quantitative","scale":{"domain":[-0.735,15.919],"reverse":true,"nice":false,"zero":false},"axis":null}}},
{"data":{"name":"ed"},"transform":[{"filter":"datum.kind == 'head'"}],"mark":{"type":"rule","color":"#333"},"encoding":{"x":{"datum":1,"type":"quantitative","scale":{"type":"log","domain":[0.01,100],"range":[420,670],"nice":false},"axis":null},"y":{"datum":-0.735,"type":"quantitative","scale":{"domain":[-0.735,15.919],"reverse":true,"nice":false,"zero":false},"axis":null},"y2":{"datum":9.743}}},
{"data":{"name":"ed"},"transform":[{"filter":"datum.kind == 'study'"}],"mark":{"type":"rule","color":"#333"},"encoding":{"x":{"field":"lo","type":"quantitative","scale":{"type":"log","domain":[0.01,100],"range":[420,670],"nice":false},"axis":{"orient":"bottom","offset":-84,"values":[0.01,0.1,1,10,100],"tickSize":3,"labelPadding":8,"labelFontSize":10,"titleFontSize":10,"title":"Favours [Intervention]\u00a0\u00a0\u00a0Favours [Control]","titleX":442,"titleY":22}},"x2":{"field":"hi"},"y":{"field":"row","type":"quantitative","scale":{"domain":[-0.735,15.919],"reverse":true,"nice":false,"zero":false},"axis":null}}},
{"data":{"name":"ed"},"transform":[{"filter":"datum.kind == 'study'"}],"mark":{"type":"square","filled":true,"opacity":1,"color":"#24309a"},"encoding":{"x":{"field":"est","type":"quantitative","scale":{"type":"log","domain":[0.01,100],"range":[420,670],"nice":false},"axis":{"orient":"bottom","offset":-84,"values":[0.01,0.1,1,10,100],"tickSize":-3,"labels":false,"domain":false,"title":null}},"y":{"field":"row","type":"quantitative","scale":{"domain":[-0.735,15.919],"reverse":true,"nice":false,"zero":false},"axis":null},"size":{"field":"w","type":"quantitative","scale":{"domain":[0,100],"range":[0,115]},"legend":null}}},
{"data":{"name":"ed"},"transform":[{"filter":"datum.kind == 'total'"}],"mark":{"type":"point","shape":"M-1,0L0,-0.51L1,0L0,0.51Z","filled":true,"opacity":1,"color":"#000","size":388},"encoding":{"x":{"field":"est","type":"quantitative","scale":{"type":"log","domain":[0.01,100],"range":[420,670],"nice":false},"axis":null},"y":{"field":"row","type":"quantitative","scale":{"domain":[-0.735,15.919],"reverse":true,"nice":false,"zero":false},"axis":null}}},
{"data":{"name":"ed"},"transform":[{"filter":{"field":"kind","oneOf":["study","events","note"]}}],"mark":{"type":"text","style":["l","m"]},"encoding":{"x":{"datum":"label","type":"nominal","scale":{"type":"point","domain":["label"],"range":[9,9]},"axis":null},"y":{"field":"row","type":"quantitative","scale":{"domain":[-0.735,15.919],"reverse":true,"nice":false,"zero":false},"axis":null},"text":{"field":"label","type":"nominal"}}},
{"data":{"name":"ed"},"transform":[{"filter":{"field":"kind","oneOf":["head","total"]}}],"mark":{"type":"text","style":["l","b","m"]},"encoding":{"x":{"datum":"label","type":"nominal","scale":{"type":"point","domain":["label"],"range":[9,9]},"axis":null},"y":{"field":"row","type":"quantitative","scale":{"domain":[-0.735,15.919],"reverse":true,"nice":false,"zero":false},"axis":null},"text":{"field":"label","type":"nominal"}}},
{"data":{"name":"ed"},"transform":[{"filter":{"field":"kind","oneOf":["study","events"]}},{"fold":["events_i","total_i"],"as":["col","val"]},{"filter":"isValid(datum.val)"}],"mark":{"type":"text","style":["r","m"]},"encoding":{"x":{"field":"col","type":"nominal","scale":{"type":"point","domain":["events_i","total_i"],"range":[150,186.5],"padding":0},"axis":null},"y":{"field":"row","type":"quantitative","scale":{"domain":[-0.735,15.919],"reverse":true,"nice":false,"zero":false},"axis":null},"text":{"field":"val","type":"nominal"}}},
{"data":{"name":"ed"},"transform":[{"filter":{"field":"kind","oneOf":["head","total"]}},{"fold":["events_i","total_i"],"as":["col","val"]},{"filter":"isValid(datum.val)"}],"mark":{"type":"text","style":["r","b","m"]},"encoding":{"x":{"field":"col","type":"nominal","scale":{"type":"point","domain":["events_i","total_i"],"range":[150,186.5],"padding":0},"axis":null},"y":{"field":"row","type":"quantitative","scale":{"domain":[-0.735,15.919],"reverse":true,"nice":false,"zero":false},"axis":null},"text":{"field":"val","type":"nominal"}}},
{"data":{"name":"ed"},"transform":[{"filter":"datum.kind == 'group'"}],"mark":{"type":"text","style":["c","b","m"],"dx":-39.5},"encoding":{"x":{"datum":"total_i","type":"nominal","scale":{"type":"point","domain":["events_i","total_i"],"range":[150,186.5],"padding":0},"axis":null},"y":{"field":"row","type":"quantitative","scale":{"domain":[-0.735,15.919],"reverse":true,"nice":false,"zero":false},"axis":null},"text":{"field":"group_i","type":"nominal"}}},
{"data":{"name":"ed"},"transform":[{"filter":{"field":"kind","oneOf":["study","events"]}},{"fold":["events_c","total_c"],"as":["col","val"]},{"filter":"isValid(datum.val)"}],"mark":{"type":"text","style":["r","m"]},"encoding":{"x":{"field":"col","type":"nominal","scale":{"type":"point","domain":["events_c","total_c"],"range":[222,259],"padding":0},"axis":null},"y":{"field":"row","type":"quantitative","scale":{"domain":[-0.735,15.919],"reverse":true,"nice":false,"zero":false},"axis":null},"text":{"field":"val","type":"nominal"}}},
{"data":{"name":"ed"},"transform":[{"filter":{"field":"kind","oneOf":["head","total"]}},{"fold":["events_c","total_c"],"as":["col","val"]},{"filter":"isValid(datum.val)"}],"mark":{"type":"text","style":["r","b","m"]},"encoding":{"x":{"field":"col","type":"nominal","scale":{"type":"point","domain":["events_c","total_c"],"range":[222,259],"padding":0},"axis":null},"y":{"field":"row","type":"quantitative","scale":{"domain":[-0.735,15.919],"reverse":true,"nice":false,"zero":false},"axis":null},"text":{"field":"val","type":"nominal"}}},
{"data":{"name":"ed"},"transform":[{"filter":"datum.kind == 'group'"}],"mark":{"type":"text","style":["c","b","m"],"dx":-36},"encoding":{"x":{"datum":"total_c","type":"nominal","scale":{"type":"point","domain":["events_c","total_c"],"range":[222,259],"padding":0},"axis":null},"y":{"field":"row","type":"quantitative","scale":{"domain":[-0.735,15.919],"reverse":true,"nice":false,"zero":false},"axis":null},"text":{"field":"group_c","type":"nominal"}}},
{"data":{"name":"ed"},"transform":[{"filter":{"field":"kind","oneOf":["study"]}},{"fold":["weight","ci"],"as":["col","val"]},{"filter":"isValid(datum.val)"}],"mark":{"type":"text","style":["r","m"]},"encoding":{"x":{"field":"col","type":"nominal","scale":{"type":"point","domain":["weight","ci"],"range":[302,410],"padding":0},"axis":null},"y":{"field":"row","type":"quantitative","scale":{"domain":[-0.735,15.919],"reverse":true,"nice":false,"zero":false},"axis":null},"text":{"field":"val","type":"nominal"}}},
{"data":{"name":"ed"},"transform":[{"filter":{"field":"kind","oneOf":["head","total"]}},{"fold":["weight","ci"],"as":["col","val"]},{"filter":"isValid(datum.val)"}],"mark":{"type":"text","style":["r","b","m"]},"encoding":{"x":{"field":"col","type":"nominal","scale":{"type":"point","domain":["weight","ci"],"range":[302,410],"padding":0},"axis":null},"y":{"field":"row","type":"quantitative","scale":{"domain":[-0.735,15.919],"reverse":true,"nice":false,"zero":false},"axis":null},"text":{"field":"val","type":"nominal"}}},
{"data":{"name":"ed"},"transform":[{"filter":"datum.kind == 'group'"}],"mark":{"type":"text","style":["c","b","m"],"dx":-50},"encoding":{"x":{"datum":"ci","type":"nominal","scale":{"type":"point","domain":["weight","ci"],"range":[302,410],"padding":0},"axis":null},"y":{"field":"row","type":"quantitative","scale":{"domain":[-0.735,15.919],"reverse":true,"nice":false,"zero":false},"axis":null},"text":{"field":"ci","type":"nominal"}}},
{"data":{"name":"ed"},"transform":[{"filter":{"field":"kind","oneOf":["head","group"]}}],"mark":{"type":"text","style":["c","b","m"]},"encoding":{"x":{"datum":1,"type":"quantitative","scale":{"type":"log","domain":[0.01,100],"range":[420,670],"nice":false},"axis":null},"y":{"field":"row","type":"quantitative","scale":{"domain":[-0.735,15.919],"reverse":true,"nice":false,"zero":false},"axis":null},"text":{"field":"ci","type":"nominal"}}}
]},
{"title":{"text":"E\u00a0\u00a0\u00a0\u00a0\u00a0\u00a0Depression","offset":3.5},"width":672,"height":289,"resolve":{"scale":{"x":"independent"}},"layer":[
{"data":{"name":"dep"},"transform":[{"filter":"datum.kind == 'head'"}],"mark":{"type":"rule","color":"#555"},"encoding":{"y":{"datum":-0.64,"type":"quantitative","scale":{"domain":[-0.64,22.48],"reverse":true,"nice":false,"zero":false},"axis":null}}},
{"data":{"name":"dep"},"transform":[{"filter":"datum.kind == 'head'"}],"mark":{"type":"rule","color":"#333"},"encoding":{"x":{"datum":0,"type":"quantitative","scale":{"domain":[-1.72,1.72],"range":[440,672],"nice":false,"zero":false},"axis":null},"y":{"datum":-0.64,"type":"quantitative","scale":{"domain":[-0.64,22.48],"reverse":true,"nice":false,"zero":false},"axis":null},"y2":{"datum":15.92}}},
{"data":{"name":"dep"},"transform":[{"filter":"datum.kind == 'study'"}],"mark":{"type":"rule","color":"#333"},"encoding":{"x":{"field":"lo","type":"quantitative","scale":{"domain":[-1.72,1.72],"range":[440,672],"nice":false,"zero":false},"axis":{"orient":"bottom","offset":-82,"values":[-1,-0.5,0,0.5,1],"tickSize":3,"labelPadding":6,"labelFontSize":9.2,"titleFontSize":9.2,"title":"Favours [Intervention]\u00a0\u00a0\u00a0Favours [Control]","titleX":462,"titleY":21}},"x2":{"field":"hi"},"y":{"field":"row","type":"quantitative","scale":{"domain":[-0.64,22.48],"reverse":true,"nice":false,"zero":false},"axis":null}}},
{"data":{"name":"dep"},"transform":[{"filter":"datum.kind == 'study'"}],"mark":{"type":"square","filled":true,"opacity":1,"color":"#5a9a3a"},"encoding":{"x":{"field":"est","type":"quantitative","scale":{"domain":[-1.72,1.72],"range":[440,672],"nice":false,"zero":false},"axis":{"orient":"bottom","offset":-82,"values":[-1,-0.5,0,0.5,1],"tickSize":-3,"labels":false,"domain":false,"title":null}},"y":{"field":"row","type":"quantitative","scale":{"domain":[-0.64,22.48],"reverse":true,"nice":false,"zero":false},"axis":null},"size":{"field":"w","type":"quantitative","scale":{"domain":[0,100],"range":[0,45]},"legend":null}}},
{"data":{"name":"dep"},"transform":[{"filter":"datum.kind == 'total'"}],"mark":{"type":"point","shape":"M-1,0L0,-0.27L1,0L0,0.27Z","filled":true,"opacity":1,"color":"#000","size":1136},"encoding":{"x":{"field":"est","type":"quantitative","scale":{"domain":[-1.72,1.72],"range":[440,672],"nice":false,"zero":false},"axis":null},"y":{"field":"row","type":"quantitative","scale":{"domain":[-0.64,22.48],"reverse":true,"nice":false,"zero":false},"axis":null}}},
{"data":{"name":"dep"},"transform":[{"filter":{"field":"kind","oneOf":["study","events","note"]}}],"mark":{"type":"text","style":"l"},"encoding":{"x":{"datum":"label","type":"nominal","scale":{"type":"point","domain":["label"],"range":[14,14]},"axis":null},"y":{"field":"row","type":"quantitative","scale":{"domain":[-0.64,22.48],"reverse":true,"nice":false,"zero":false},"axis":null},"text":{"field":"label","type":"nominal"}}},
{"data":{"name":"dep"},"transform":[{"filter":{"field":"kind","oneOf":["head","total"]}}],"mark":{"type":"text","style":["l","b"]},"encoding":{"x":{"datum":"label","type":"nominal","scale":{"type":"point","domain":["label"],"range":[14,14]},"axis":null},"y":{"field":"row","type":"quantitative","scale":{"domain":[-0.64,22.48],"reverse":true,"nice":false,"zero":false},"axis":null},"text":{"field":"label","type":"nominal"}}},
{"data":{"name":"dep"},"transform":[{"filter":{"field":"kind","oneOf":["study","events"]}},{"fold":["mean_i","sd_i","total_i"],"as":["col","val"]},{"filter":"isValid(datum.val)"}],"mark":{"type":"text","style":"r"},"encoding":{"x":{"field":"col","type":"nominal","scale":{"type":"point","domain":["mean_i","sd_i","total_i"],"range":[135,194],"padding":0},"axis":null},"y":{"field":"row","type":"quantitative","scale":{"domain":[-0.64,22.48],"reverse":true,"nice":false,"zero":false},"axis":null},"text":{"field":"val","type":"nominal"}}},
{"data":{"name":"dep"},"transform":[{"filter":{"field":"kind","oneOf":["head","total"]}},{"fold":["mean_i","sd_i","total_i"],"as":["col","val"]},{"filter":"isValid(datum.val)"}],"mark":{"type":"text","style":["r","b"]},"encoding":{"x":{"field":"col","type":"nominal","scale":{"type":"point","domain":["mean_i","sd_i","total_i"],"range":[135,194],"padding":0},"axis":null},"y":{"field":"row","type":"quantitative","scale":{"domain":[-0.64,22.48],"reverse":true,"nice":false,"zero":false},"axis":null},"text":{"field":"val","type":"nominal"}}},
{"data":{"name":"dep"},"transform":[{"filter":"datum.kind == 'group'"}],"mark":{"type":"text","style":["c","b"],"dx":-16.5},"encoding":{"x":{"datum":"sd_i","type":"nominal","scale":{"type":"point","domain":["mean_i","sd_i","total_i"],"range":[135,194],"padding":0},"axis":null},"y":{"field":"row","type":"quantitative","scale":{"domain":[-0.64,22.48],"reverse":true,"nice":false,"zero":false},"axis":null},"text":{"field":"group_i","type":"nominal"}}},
{"data":{"name":"dep"},"transform":[{"filter":{"field":"kind","oneOf":["study","events"]}},{"fold":["mean_c","sd_c","total_c"],"as":["col","val"]},{"filter":"isValid(datum.val)"}],"mark":{"type":"text","style":"r"},"encoding":{"x":{"field":"col","type":"nominal","scale":{"type":"point","domain":["mean_c","sd_c","total_c"],"range":[230,292],"padding":0},"axis":null},"y":{"field":"row","type":"quantitative","scale":{"domain":[-0.64,22.48],"reverse":true,"nice":false,"zero":false},"axis":null},"text":{"field":"val","type":"nominal"}}},
{"data":{"name":"dep"},"transform":[{"filter":{"field":"kind","oneOf":["head","total"]}},{"fold":["mean_c","sd_c","total_c"],"as":["col","val"]},{"filter":"isValid(datum.val)"}],"mark":{"type":"text","style":["r","b"]},"encoding":{"x":{"field":"col","type":"nominal","scale":{"type":"point","domain":["mean_c","sd_c","total_c"],"range":[230,292],"padding":0},"axis":null},"y":{"field":"row","type":"quantitative","scale":{"domain":[-0.64,22.48],"reverse":true,"nice":false,"zero":false},"axis":null},"text":{"field":"val","type":"nominal"}}},
{"data":{"name":"dep"},"transform":[{"filter":"datum.kind == 'group'"}],"mark":{"type":"text","style":["c","b"],"dx":-17},"encoding":{"x":{"datum":"sd_c","type":"nominal","scale":{"type":"point","domain":["mean_c","sd_c","total_c"],"range":[230,292],"padding":0},"axis":null},"y":{"field":"row","type":"quantitative","scale":{"domain":[-0.64,22.48],"reverse":true,"nice":false,"zero":false},"axis":null},"text":{"field":"group_c","type":"nominal"}}},
{"data":{"name":"dep"},"transform":[{"filter":{"field":"kind","oneOf":["study"]}},{"fold":["weight","ci"],"as":["col","val"]},{"filter":"isValid(datum.val)"}],"mark":{"type":"text","style":"r"},"encoding":{"x":{"field":"col","type":"nominal","scale":{"type":"point","domain":["weight","ci"],"range":[330,432],"padding":0},"axis":null},"y":{"field":"row","type":"quantitative","scale":{"domain":[-0.64,22.48],"reverse":true,"nice":false,"zero":false},"axis":null},"text":{"field":"val","type":"nominal"}}},
{"data":{"name":"dep"},"transform":[{"filter":{"field":"kind","oneOf":["head","total"]}},{"fold":["weight","ci"],"as":["col","val"]},{"filter":"isValid(datum.val)"}],"mark":{"type":"text","style":["r","b"]},"encoding":{"x":{"field":"col","type":"nominal","scale":{"type":"point","domain":["weight","ci"],"range":[330,432],"padding":0},"axis":null},"y":{"field":"row","type":"quantitative","scale":{"domain":[-0.64,22.48],"reverse":true,"nice":false,"zero":false},"axis":null},"text":{"field":"val","type":"nominal"}}},
{"data":{"name":"dep"},"transform":[{"filter":"datum.kind == 'group'"}],"mark":{"type":"text","style":["c","b"],"dx":-51},"encoding":{"x":{"datum":"ci","type":"nominal","scale":{"type":"point","domain":["weight","ci"],"range":[330,432],"padding":0},"axis":null},"y":{"field":"row","type":"quantitative","scale":{"domain":[-0.64,22.48],"reverse":true,"nice":false,"zero":false},"axis":null},"text":{"field":"ci","type":"nominal"}}},
{"data":{"name":"dep"},"transform":[{"filter":{"field":"kind","oneOf":["head","group"]}}],"mark":{"type":"text","style":["c","b"]},"encoding":{"x":{"datum":0,"type":"quantitative","scale":{"domain":[-1.72,1.72],"range":[440,672],"nice":false,"zero":false},"axis":null},"y":{"field":"row","type":"quantitative","scale":{"domain":[-0.64,22.48],"reverse":true,"nice":false,"zero":false},"axis":null},"text":{"field":"ci","type":"nominal"}}}
]},
{"title":{"text":"F\u00a0\u00a0\u00a0\u00a0\u00a0\u00a0Anxiety","offset":10.5},"width":672,"height":117,"resolve":{"scale":{"x":"independent"}},"layer":[
{"data":{"name":"anx"},"transform":[{"filter":"datum.kind == 'head'"}],"mark":{"type":"rule","color":"#555"},"encoding":{"y":{"datum":-0.593,"type":"quantitative","scale":{"domain":[-0.593,8.919],"reverse":true,"nice":false,"zero":false},"axis":null}}},
{"data":{"name":"anx"},"transform":[{"filter":"datum.kind == 'head'"}],"mark":{"type":"rule","color":"#333"},"encoding":{"x":{"datum":0,"type":"quantitative","scale":{"domain":[-1,1],"range":[424,658],"nice":false,"zero":false},"axis":null},"y":{"datum":-0.593,"type":"quantitative","scale":{"domain":[-0.593,8.919],"reverse":true,"nice":false,"zero":false},"axis":null},"y2":{"datum":6.317}}},
{"data":{"name":"anx"},"transform":[{"filter":"datum.kind == 'study'"}],"mark":{"type":"rule","color":"#333"},"encoding":{"x":{"field":"lo","type":"quantitative","scale":{"domain":[-1,1],"range":[424,658],"nice":false,"zero":false},"axis":{"orient":"bottom","offset":-32,"values":[-1,-0.5,0,0.5,1],"tickSize":3,"labelPadding":4,"labelFontSize":9,"titleFontSize":9,"title":"Favours [Intervention]\u00a0\u00a0\u00a0Favours [Control]","titleX":448,"titleY":17}},"x2":{"field":"hi"},"y":{"field":"row","type":"quantitative","scale":{"domain":[-0.593,8.919],"reverse":true,"nice":false,"zero":false},"axis":null}}},
{"data":{"name":"anx"},"transform":[{"filter":"datum.kind == 'study'"}],"mark":{"type":"square","filled":true,"opacity":1,"color":"#2fbf2f"},"encoding":{"x":{"field":"est","type":"quantitative","scale":{"domain":[-1,1],"range":[424,658],"nice":false,"zero":false},"axis":{"orient":"bottom","offset":-32,"values":[-1,-0.5,0,0.5,1],"tickSize":-3,"labels":false,"domain":false,"title":null}},"y":{"field":"row","type":"quantitative","scale":{"domain":[-0.593,8.919],"reverse":true,"nice":false,"zero":false},"axis":null},"size":{"field":"w","type":"quantitative","scale":{"domain":[0,100],"range":[0,205]},"legend":null}}},
{"data":{"name":"anx"},"transform":[{"filter":"datum.kind == 'total'"}],"mark":{"type":"point","shape":"M-1,0L0,-0.38L1,0L0,0.38Z","filled":true,"opacity":1,"color":"#000","size":445},"encoding":{"x":{"field":"est","type":"quantitative","scale":{"domain":[-1,1],"range":[424,658],"nice":false,"zero":false},"axis":null},"y":{"field":"row","type":"quantitative","scale":{"domain":[-0.593,8.919],"reverse":true,"nice":false,"zero":false},"axis":null}}},
{"data":{"name":"anx"},"transform":[{"filter":{"field":"kind","oneOf":["study","events","note"]}}],"mark":{"type":"text","style":["l","s"]},"encoding":{"x":{"datum":"label","type":"nominal","scale":{"type":"point","domain":["label"],"range":[11,11]},"axis":null},"y":{"field":"row","type":"quantitative","scale":{"domain":[-0.593,8.919],"reverse":true,"nice":false,"zero":false},"axis":null},"text":{"field":"label","type":"nominal"}}},
{"data":{"name":"anx"},"transform":[{"filter":{"field":"kind","oneOf":["head","total"]}}],"mark":{"type":"text","style":["l","b","s"]},"encoding":{"x":{"datum":"label","type":"nominal","scale":{"type":"point","domain":["label"],"range":[11,11]},"axis":null},"y":{"field":"row","type":"quantitative","scale":{"domain":[-0.593,8.919],"reverse":true,"nice":false,"zero":false},"axis":null},"text":{"field":"label","type":"nominal"}}},
{"data":{"name":"anx"},"transform":[{"filter":{"field":"kind","oneOf":["study","events"]}},{"fold":["mean_i","sd_i","total_i"],"as":["col","val"]},{"filter":"isValid(datum.val)"}],"mark":{"type":"text","style":["r","s"]},"encoding":{"x":{"field":"col","type":"nominal","scale":{"type":"point","domain":["mean_i","sd_i","total_i"],"range":[128,189],"padding":0},"axis":null},"y":{"field":"row","type":"quantitative","scale":{"domain":[-0.593,8.919],"reverse":true,"nice":false,"zero":false},"axis":null},"text":{"field":"val","type":"nominal"}}},
{"data":{"name":"anx"},"transform":[{"filter":{"field":"kind","oneOf":["head","total"]}},{"fold":["mean_i","sd_i","total_i"],"as":["col","val"]},{"filter":"isValid(datum.val)"}],"mark":{"type":"text","style":["r","b","s"]},"encoding":{"x":{"field":"col","type":"nominal","scale":{"type":"point","domain":["mean_i","sd_i","total_i"],"range":[128,189],"padding":0},"axis":null},"y":{"field":"row","type":"quantitative","scale":{"domain":[-0.593,8.919],"reverse":true,"nice":false,"zero":false},"axis":null},"text":{"field":"val","type":"nominal"}}},
{"data":{"name":"anx"},"transform":[{"filter":"datum.kind == 'group'"}],"mark":{"type":"text","style":["c","b","s"],"dx":-13},"encoding":{"x":{"datum":"sd_i","type":"nominal","scale":{"type":"point","domain":["mean_i","sd_i","total_i"],"range":[128,189],"padding":0},"axis":null},"y":{"field":"row","type":"quantitative","scale":{"domain":[-0.593,8.919],"reverse":true,"nice":false,"zero":false},"axis":null},"text":{"field":"group_i","type":"nominal"}}},
{"data":{"name":"anx"},"transform":[{"filter":{"field":"kind","oneOf":["study","events"]}},{"fold":["mean_c","sd_c","total_c"],"as":["col","val"]},{"filter":"isValid(datum.val)"}],"mark":{"type":"text","style":["r","s"]},"encoding":{"x":{"field":"col","type":"nominal","scale":{"type":"point","domain":["mean_c","sd_c","total_c"],"range":[222,287],"padding":0},"axis":null},"y":{"field":"row","type":"quantitative","scale":{"domain":[-0.593,8.919],"reverse":true,"nice":false,"zero":false},"axis":null},"text":{"field":"val","type":"nominal"}}},
{"data":{"name":"anx"},"transform":[{"filter":{"field":"kind","oneOf":["head","total"]}},{"fold":["mean_c","sd_c","total_c"],"as":["col","val"]},{"filter":"isValid(datum.val)"}],"mark":{"type":"text","style":["r","b","s"]},"encoding":{"x":{"field":"col","type":"nominal","scale":{"type":"point","domain":["mean_c","sd_c","total_c"],"range":[222,287],"padding":0},"axis":null},"y":{"field":"row","type":"quantitative","scale":{"domain":[-0.593,8.919],"reverse":true,"nice":false,"zero":false},"axis":null},"text":{"field":"val","type":"nominal"}}},
{"data":{"name":"anx"},"transform":[{"filter":"datum.kind == 'group'"}],"mark":{"type":"text","style":["c","b","s"],"dx":-17},"encoding":{"x":{"datum":"sd_c","type":"nominal","scale":{"type":"point","domain":["mean_c","sd_c","total_c"],"range":[222,287],"padding":0},"axis":null},"y":{"field":"row","type":"quantitative","scale":{"domain":[-0.593,8.919],"reverse":true,"nice":false,"zero":false},"axis":null},"text":{"field":"group_c","type":"nominal"}}},
{"data":{"name":"anx"},"transform":[{"filter":{"field":"kind","oneOf":["study"]}},{"fold":["weight","ci"],"as":["col","val"]},{"filter":"isValid(datum.val)"}],"mark":{"type":"text","style":["r","s"]},"encoding":{"x":{"field":"col","type":"nominal","scale":{"type":"point","domain":["weight","ci"],"range":[323,422],"padding":0},"axis":null},"y":{"field":"row","type":"quantitative","scale":{"domain":[-0.593,8.919],"reverse":true,"nice":false,"zero":false},"axis":null},"text":{"field":"val","type":"nominal"}}},
{"data":{"name":"anx"},"transform":[{"filter":{"field":"kind","oneOf":["head","total"]}},{"fold":["weight","ci"],"as":["col","val"]},{"filter":"isValid(datum.val)"}],"mark":{"type":"text","style":["r","b","s"]},"encoding":{"x":{"field":"col","type":"nominal","scale":{"type":"point","domain":["weight","ci"],"range":[323,422],"padding":0},"axis":null},"y":{"field":"row","type":"quantitative","scale":{"domain":[-0.593,8.919],"reverse":true,"nice":false,"zero":false},"axis":null},"text":{"field":"val","type":"nominal"}}},
{"data":{"name":"anx"},"transform":[{"filter":"datum.kind == 'group'"}],"mark":{"type":"text","style":["c","b","s"],"dx":-43},"encoding":{"x":{"datum":"ci","type":"nominal","scale":{"type":"point","domain":["weight","ci"],"range":[323,422],"padding":0},"axis":null},"y":{"field":"row","type":"quantitative","scale":{"domain":[-0.593,8.919],"reverse":true,"nice":false,"zero":false},"axis":null},"text":{"field":"ci","type":"nominal"}}},
{"data":{"name":"anx"},"transform":[{"filter":{"field":"kind","oneOf":["head","group"]}}],"mark":{"type":"text","style":["c","b","s"]},"encoding":{"x":{"datum":0,"type":"quantitative","scale":{"domain":[-1,1],"range":[424,658],"nice":false,"zero":false},"axis":null},"y":{"field":"row","type":"quantitative","scale":{"domain":[-0.593,8.919],"reverse":true,"nice":false,"zero":false},"axis":null},"text":{"field":"ci","type":"nominal"}}}
]}
]
}
